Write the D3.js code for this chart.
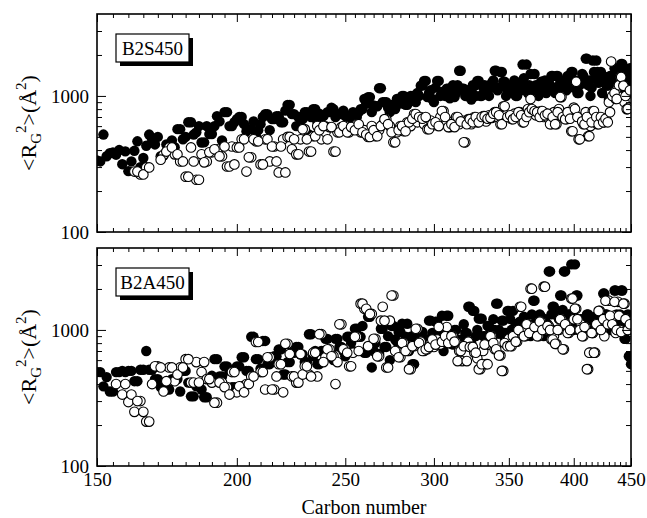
<!DOCTYPE html>
<html><head><meta charset="utf-8">
<script src="https://cdn.jsdelivr.net/npm/d3@7"></script>
<style>body{margin:0;background:#fff}svg{display:block}text{font-family:"Liberation Serif","Times New Roman",serif;fill:#000}</style>
</head><body><svg id="c" width="647" height="518"></svg>
<script>
// carbon numbers (x categories): even 150..450 and odd 151..449
const carbonEven = d3.range(150, 451, 2);
const carbonOdd = d3.range(151, 450, 2);
const xTickLabels = [150, 200, 250, 300, 350, 400, 450];
const yTickLabels = [100, 1000];
const panelNames = ["B2S450", "B2A450"];

// Top panel (B2S450), <RG^2> in Å^2
const topFilledEven = [
 335,520,380,370,315,280,395,300,430,480,
 500,365,440,420,570,500,640,540,455,600,
 525,710,470,760,600,675,700,550,570,505,
 620,735,560,675,710,640,860,735,600,675,
 760,520,800,650,710,600,760,800,735,560,
 710,640,760,700,800,950,980,760,840,1140,
 900,900,760,800,950,880,1000,860,1000,920,
 1050,1190,1290,980,1100,900,1290,1000,1070,1130,
 960,1200,1050,1530,1130,1000,1100,940,1180,1290,
 1000,1150,1090,1000,1250,1530,1100,1500,1270,1000,
 1180,1090,1300,1000,1200,1700,1150,1050,1450,1090,
 1200,1000,1270,1120,1050,1300,1400,1150,1400,1050,
 1190,1300,1100,1350,1500,1150,1250,1050,1300,1400,
 1880,1200,1000,1820,1350,1500,1290,1050,1350,1190,
 950,1400,1250,1500,1300,1150,1720,1450,1400,1250,
 1550];
const topFilledOdd = [
 330,360,385,400,391,330,464,350,520,440,
 360,440,470,570,480,640,520,600,456,524,
 600,650,760,600,640,700,620,570,650,560,
 700,735,675,710,640,780,860,735,700,675,
 760,700,800,740,710,760,820,700,735,780,
 710,680,640,760,800,880,980,850,840,1140,
 900,820,860,800,920,1000,860,950,1000,900,
 1000,1190,1290,1050,950,1150,1290,1070,1000,1130,
 1050,980,1200,1530,1130,1000,1080,1200,1000,1290,
 1000,1200,1090,1150,1300,1530,1150,1500,1270,1100,
 1200,1090,1000,1250,1100,1350,1700,1200,1100,1450,
 1090,1150,1270,1300,1100,1200,1400,1050,1400,1250,
 1190,1100,1400,1250,1500,1300,1050,1200,1450,1300,
 1880,1300,1150,1500,1820,1250,1500,1400,1290,1190,
 1400,1250,1600,1400,1300,1720,1550,1100,1400,1600];
const topOpenEven = [
 null,null,null,null,null,null,278,265,298,null,
 null,370,418,372,330,255,418,242,372,330,
 385,405,360,303,425,418,480,278,354,464,
 314,480,330,425,274,480,500,405,372,480,
 570,390,506,600,480,540,590,390,540,590,
 600,540,590,620,540,560,500,600,506,560,
 620,675,600,456,540,600,550,640,600,735,
 640,700,620,570,660,610,640,700,775,640,
 590,650,700,620,660,456,675,620,700,640,
 680,710,650,720,690,760,700,620,840,720,
 700,675,740,700,760,640,720,800,950,775,
 720,760,775,700,740,680,620,760,620,800,
 980,720,675,760,550,820,1270,480,700,620,
 760,506,600,775,640,620,650,680,640,660,
 900,1790,1000,950,1150,1380,1190,900,800,820,
 1050];
const topOpenOdd = [
 null,null,null,null,null,null,278,265,298,null,
 340,390,418,372,330,255,330,242,325,385,
 405,360,425,303,314,418,480,354,480,464,
 314,480,425,330,425,274,500,480,372,570,
 480,390,506,560,600,480,590,390,540,600,
 540,590,560,620,540,520,500,560,506,600,
 675,620,540,456,560,600,550,640,680,735,
 700,680,700,570,620,640,600,775,700,590,
 620,590,700,650,456,620,675,640,700,640,
 700,710,680,690,740,760,720,620,840,700,
 720,675,700,760,720,640,700,760,800,775,
 760,700,775,720,740,620,700,620,760,980,
 700,675,760,680,550,800,700,480,650,620,
 700,506,640,775,700,620,700,640,680,640,
 760,1000,1050,950,1200,1380,1190,1000,800,1100];
// Bottom panel (B2A450)
const botFilledEven = [
 490,385,353,490,500,500,420,510,700,510,
 435,380,365,435,353,500,325,385,365,320,
 460,610,455,540,380,540,630,500,890,610,
 520,830,560,640,720,470,580,680,750,660,
 580,930,640,560,700,860,680,600,860,750,
 640,890,700,1020,890,680,1250,530,800,665,
 1020,750,600,1070,820,965,700,1110,890,560,
 800,965,720,850,1170,780,1150,850,700,1270,
 900,780,1000,720,850,950,1480,800,1380,1000,
 1210,900,800,1070,900,1000,1560,880,1170,950,
 1380,1000,900,1100,1150,950,1200,1050,900,1640,
 1150,1000,1250,900,1100,2690,1300,1480,1000,1200,
 1790,2690,1100,1300,3030,1000,1790,1150,1200,965,
 1100,1300,1150,950,1250,1100,1200,1000,1850,1300,
 1150,1000,1250,1950,1100,1300,1950,860,1110,640,
 560];
const botFilledOdd = [
 490,450,353,490,490,500,420,510,510,435,
 380,365,435,435,500,410,325,385,320,440,
 610,455,540,500,380,540,630,500,890,610,
 830,560,600,640,720,470,580,680,750,660,
 580,930,700,560,700,860,680,860,750,700,
 890,800,1020,890,1070,680,1250,700,665,1020,
 750,900,1070,850,965,1110,890,700,560,965,
 900,965,850,1170,950,1150,900,1270,1000,1270,
 900,1000,850,720,1100,950,1480,1380,900,1210,
 1210,900,1070,1000,1200,1560,1000,1170,950,1380,
 1200,1380,1100,1000,1150,1250,1100,1000,1300,1640,
 1150,1300,1000,1200,1100,2690,1480,1300,1000,1790,
 1400,2690,1200,1300,1100,3030,1790,1200,965,1100,
 1300,1150,1150,1000,1250,1300,1100,1850,1300,1200,
 1000,1250,1950,1300,1100,1950,1000,860,1300,640];
const botOpenEven = [
 null,null,null,400,335,295,250,300,212,400,
 540,353,530,420,530,610,410,580,490,435,
 410,292,410,380,490,348,385,400,455,815,
 490,365,630,365,560,348,790,455,410,665,
 540,470,680,455,930,630,720,640,580,1100,
 720,540,680,890,1560,1430,760,1310,860,640,
 1480,530,1170,1790,700,630,800,700,515,760,
 1020,820,700,720,800,750,850,780,820,1050,
 800,900,820,700,590,760,820,750,680,620,
 515,700,560,780,900,720,800,650,500,800,
 860,760,900,820,1480,1000,900,1100,2010,950,
 1050,900,1150,2080,1000,1070,850,900,790,1000,
 1200,720,1100,950,1700,1200,1430,1000,1100,900,
 1050,515,680,950,680,1100,1380,1000,900,1200,
 1640,1100,1270,950,1610,1000,965,1560,1200,1000,
 1150];
const botOpenOdd = [
 null,null,null,null,400,335,300,250,212,540,
 530,420,530,470,530,610,410,410,580,435,
 292,410,380,335,490,385,348,400,455,815,
 490,630,365,455,560,790,665,455,410,470,
 540,455,680,930,580,720,640,400,1100,720,
 680,540,890,700,1560,1430,1310,860,640,1170,
 1170,530,1790,700,630,800,700,515,760,1020,
 800,700,720,750,850,780,1050,820,900,800,
 900,820,590,700,760,590,750,750,680,515,
 560,780,560,900,800,720,650,500,800,760,
 760,900,820,1000,1480,900,1100,950,2010,1050,
 900,1150,1000,2080,1070,1000,850,790,1000,1200,
 720,1100,950,1000,1700,1430,1200,1000,900,1050,
 515,680,950,680,1100,1380,1000,1200,1640,1100,
 1270,1100,1610,1000,1270,965,1560,1200,1000,1100];

const svg = d3.select("#c");
const L = 97, R = 631;
const panels = [
  {top: 14, bottom: 232, fE: topFilledEven, fO: topFilledOdd, oE: topOpenEven, oO: topOpenOdd, name: panelNames[0], xlabels: false},
  {top: 248, bottom: 466, fE: botFilledEven, fO: botFilledOdd, oE: botOpenEven, oO: botOpenOdd, name: panelNames[1], xlabels: true}
];
const x = d3.scaleLog().domain([150, 450]).range([L, R]);
const xMinor = d3.range(155, 450, 5).filter(v => v % 50 !== 0);
const yMinorVals = [200,300,400,500,600,700,800,900,2000,3000];
const pair = (cs, vs) => cs.map((c, i) => [c, vs[i]]).filter(d => d[1] != null);

panels.forEach(p => {
  const y = d3.scaleLog().domain([100, 4000]).range([p.bottom, p.top]);
  const g = svg.append("g");
  const clipId = "clip" + p.top;
  svg.append("clipPath").attr("id", clipId).append("rect")
    .attr("x", L).attr("y", p.top).attr("width", R - L).attr("height", p.bottom - p.top);

  const pts = g.append("g").attr("clip-path", `url(#${clipId})`);
  const fd = pair(carbonEven, p.fE).concat(pair(carbonOdd, p.fO));
  const od = pair(carbonEven, p.oE).concat(pair(carbonOdd, p.oO));
  pts.selectAll("circle.f").data(fd).enter().append("circle").attr("class","f")
    .attr("cx", d => x(d[0])).attr("cy", d => y(d[1])).attr("r", 5.2).attr("fill", "#000");
  pts.selectAll("circle.o").data(od).enter().append("circle").attr("class","o")
    .attr("cx", d => x(d[0])).attr("cy", d => y(d[1])).attr("r", 4.8)
    .attr("fill", "#fff").attr("stroke", "#000").attr("stroke-width", 1.1);

  const styleAxis = sel => { sel.select(".domain").remove(); sel.selectAll(".tick line").attr("stroke", "#000").attr("stroke-width", 1); };
  g.append("g").attr("transform", `translate(0,${p.bottom})`)
    .call(d3.axisBottom(x).tickValues(xTickLabels).tickSize(-8).tickPadding(7)
      .tickFormat(p.xlabels ? d3.format("d") : () => ""))
    .call(styleAxis).selectAll("text").attr("font-size", 19).attr("font-family", "Liberation Serif");
  g.append("g").attr("transform", `translate(0,${p.bottom})`)
    .call(d3.axisBottom(x).tickValues(xMinor).tickSize(-4).tickFormat(() => "")).call(styleAxis);
  g.append("g").attr("transform", `translate(0,${p.top})`)
    .call(d3.axisTop(x).tickValues(xTickLabels).tickSize(-8).tickFormat(() => "")).call(styleAxis);
  g.append("g").attr("transform", `translate(0,${p.top})`)
    .call(d3.axisTop(x).tickValues(xMinor).tickSize(-4).tickFormat(() => "")).call(styleAxis);
  g.append("g").attr("transform", `translate(${L},0)`)
    .call(d3.axisLeft(y).tickValues(yTickLabels).tickSize(-9).tickPadding(8).tickFormat(d3.format("d")))
    .call(styleAxis).selectAll("text").attr("font-size", 19).attr("font-family", "Liberation Serif");
  g.append("g").attr("transform", `translate(${L},0)`)
    .call(d3.axisLeft(y).tickValues(yMinorVals).tickSize(-5).tickFormat(() => "")).call(styleAxis);
  g.append("g").attr("transform", `translate(${R},0)`)
    .call(d3.axisRight(y).tickValues(yTickLabels).tickSize(-9).tickFormat(() => "")).call(styleAxis);
  g.append("g").attr("transform", `translate(${R},0)`)
    .call(d3.axisRight(y).tickValues(yMinorVals).tickSize(-5).tickFormat(() => "")).call(styleAxis);

  g.append("rect").attr("x", L).attr("y", p.top).attr("width", R - L).attr("height", p.bottom - p.top)
    .attr("fill", "none").attr("stroke", "#000").attr("stroke-width", 1.6);

  const bx = 116, by = p.top + 20, bw = 73, bh = 28;
  g.append("rect").attr("x", bx + 4).attr("y", by + 4).attr("width", bw).attr("height", bh).attr("fill", "#000");
  g.append("rect").attr("x", bx).attr("y", by).attr("width", bw).attr("height", bh)
    .attr("fill", "#fff").attr("stroke", "#000").attr("stroke-width", 1.2);
  g.append("text").attr("x", bx + bw / 2).attr("y", by + bh / 2 + 7).attr("text-anchor", "middle")
    .attr("font-size", 19).text(p.name);

  const cy = (p.top + p.bottom) / 2;
  const t = g.append("text").attr("transform", `translate(36,${cy}) rotate(-90)`)
    .attr("text-anchor", "middle").attr("font-size", 22);
  t.append("tspan").text("<R");
  t.append("tspan").attr("font-size", 15).attr("dy", 5).text("G");
  t.append("tspan").attr("font-size", 15).attr("dy", -15).text("2");
  t.append("tspan").attr("dy", 10).text(">(Å");
  t.append("tspan").attr("font-size", 15).attr("dy", -10).text("2");
  t.append("tspan").attr("dy", 10).text(")");
});

svg.append("text").attr("x", (L + R) / 2).attr("y", 514).attr("text-anchor", "middle")
  .attr("font-size", 20).text("Carbon number");
</script></body></html>
